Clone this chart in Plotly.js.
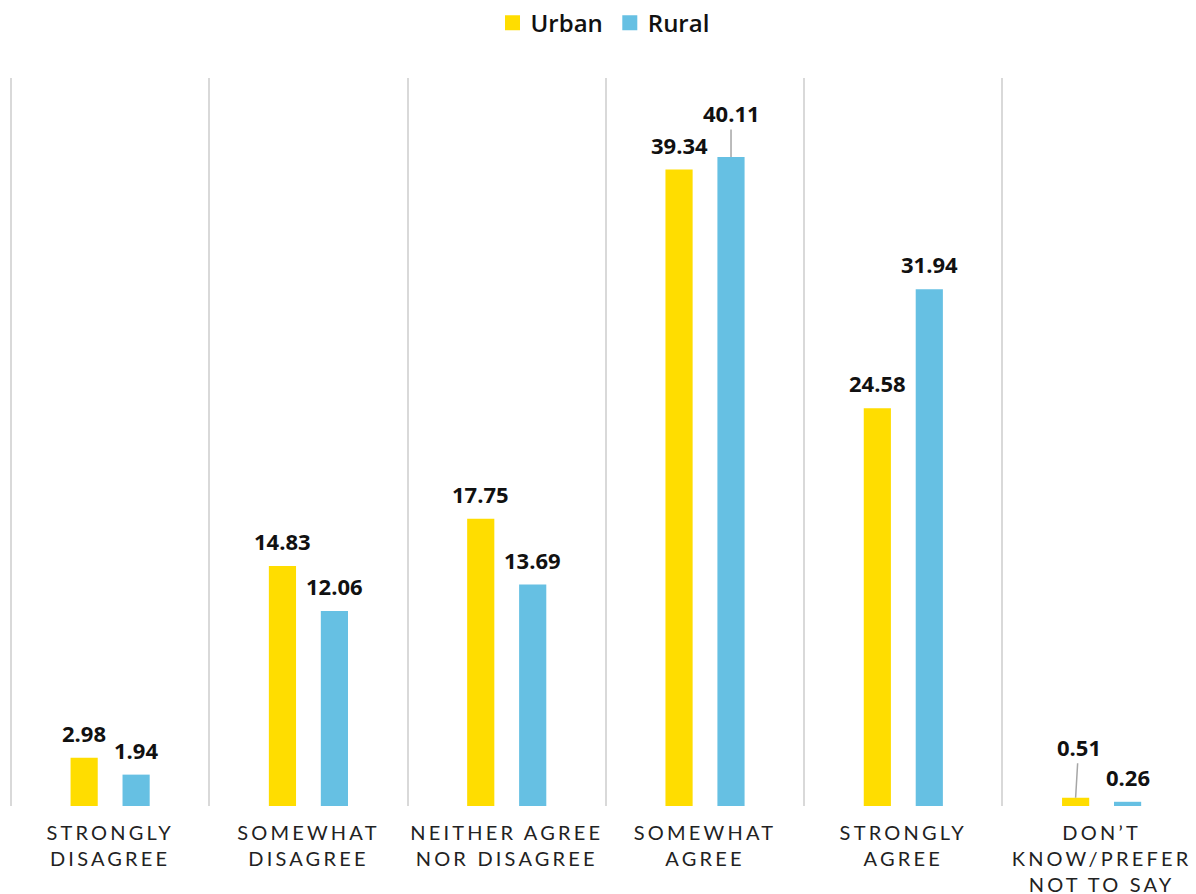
<!DOCTYPE html>
<html>
<head>
<meta charset="utf-8">
<script src="https://cdn.plot.ly/plotly-3.0.1.min.js"></script>
<style>
  html, body { margin: 0; padding: 0; background: #fff; overflow: hidden; }
  #chart { width: 1196px; height: 894px; }
  .xtick text { letter-spacing: 3.2px; }
  .legend .legendpoints path { transform: translate(22px, 0px) scale(1.25); }
</style>
</head>
<body>
<div id="chart"></div>
<script>
const categories = ["STRONGLY<br>DISAGREE", "SOMEWHAT<br>DISAGREE", "NEITHER AGREE<br>NOR DISAGREE", "SOMEWHAT<br>AGREE", "STRONGLY<br>AGREE", "DON’T<br>KNOW/PREFER<br>NOT TO SAY"];
const urban = [2.98, 14.83, 17.75, 39.34, 24.58, 0.51];
const rural = [1.94, 12.06, 13.69, 40.11, 31.94, 0.26];
const seriesNames = ["Urban", "Rural"];
const seriesColors = ["#FFDD00", "#66C0E3"];

const traces = [urban, rural].map((vals, i) => ({
  type: "bar",
  name: seriesNames[i],
  x: categories,
  y: vals,
  marker: { color: seriesColors[i] },
  hoverinfo: "x+y+name"
}));

// label placement styles (not data)
const labelFont = { family: "Open Sans, sans-serif", size: 22, color: "#111", weight: 700 };
const shifts = [-26, 26];
const callouts = { "1-3": { ax: 0, ay: -44 }, "0-5": { ax: 3, ay: -51 } };
const annotations = [];
[urban, rural].forEach((vals, s) => {
  vals.forEach((v, i) => {
    const c = callouts[s + "-" + i];
    const a = {
      x: categories[i], y: v, xref: "x", yref: "y",
      text: v.toFixed(2), font: labelFont, xshift: shifts[s]
    };
    if (c) {
      Object.assign(a, { showarrow: true, ax: c.ax, ay: c.ay, arrowhead: 0, arrowwidth: 1.5, arrowcolor: "#a6a6a6", standoff: 0, startstandoff: 0 });
    } else {
      Object.assign(a, { showarrow: false, yshift: 25, yanchor: "middle" });
    }
    annotations.push(a);
  });
});

const layout = {
  width: 1196, height: 894,
  margin: { l: 9, r: 0, t: 78, b: 88 },
  paper_bgcolor: "#fff", plot_bgcolor: "#fff",
  barmode: "group", bargap: 0.476, bargroupgap: 0.477,
  showlegend: true,
  legend: {
    orientation: "h", x: 0.5, xanchor: "center", yref: "container", y: 0.974, yanchor: "middle",
    font: { family: "Open Sans, sans-serif", size: 24, color: "#111", weight: 600 },
    itemclick: false, itemdoubleclick: false
  },
  xaxis: {
    type: "category", range: [-0.51, 5.476], tickson: "boundaries",
    showgrid: true, gridcolor: "#d9d9d9", gridwidth: 2,
    showline: false, zeroline: false, ticks: "", ticklabelstandoff: 13,
    tickfont: { family: "Lato, sans-serif", size: 20, color: "#222" },
    fixedrange: true
  },
  yaxis: {
    range: [0, 45], visible: false, showgrid: false, zeroline: false, fixedrange: true
  },
  annotations: annotations
};

Plotly.newPlot("chart", traces, layout, { displayModeBar: false, staticPlot: false });
</script>
</body>
</html>
